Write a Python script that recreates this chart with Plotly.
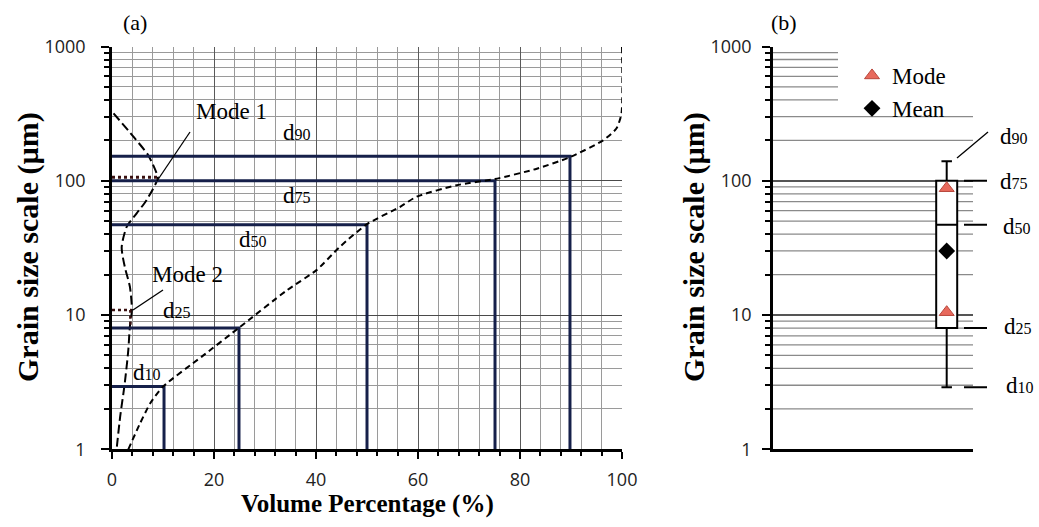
import plotly.graph_objects as go

# ---------------- data ----------------
# cumulative volume curve (volume %, grain size µm)
cum_pct = [3.2, 5.5, 7.5, 10.0, 17.6, 25.0, 34.3, 40.1, 44.7, 50.0, 56.5, 59.7, 67.6, 75.1, 83.3, 89.8, 96.3, 98.9, 99.9, 100.0]
cum_size = [1.0, 1.56, 2.2, 2.93, 4.9, 8.1, 15.3, 21.6, 32.3, 47.5, 64, 76, 92.7, 103, 123, 150, 200, 245, 317, 1000]

# frequency curve (volume %, grain size µm)
freq_pct = [0.3, 4.2, 7.1, 8.7, 9.0, 6.8, 4.8, 2.9, 1.9, 2.5, 3.5, 3.9, 3.5, 3.2, 2.5, 1.6, 0.9]
freq_size = [318, 213, 155, 115, 105, 72, 57, 45.5, 32, 22.9, 16.3, 10.9, 8.2, 5.5, 3.1, 1.75, 1.0]

# percentile lines of panel (a)
d_names = ["10", "25", "50", "75", "90"]
d_pct = [10.2, 24.9, 50.0, 75.1, 89.8]
d_size_a = [2.93, 8.0, 47.0, 100.0, 152.0]

# modes of panel (a)
mode_names = ["Mode 1", "Mode 2"]
mode_pct_a = [9.0, 3.6]
mode_size_a = [106.0, 10.9]

# panel (b) box statistics
d_size_b = [2.9, 8.0, 47.0, 100.0, 140.0]
mode_size_b = [88.0, 10.5]
mean_size_b = [30.0]

y_tick_vals = [1, 10, 100, 1000]
y_tick_text = ["1", "10", "100", "1000"]
x_tick_vals = [0, 20, 40, 60, 80, 100]
x_tick_text = ["0", "20", "40", "60", "80", "100"]

# ---------------- helpers ----------------
W, H = 1039, 527
def px(x):
    return x / W
def py(y):
    return 1 - y / H

minor_y = [m * 10 ** e for e in range(3) for m in range(2, 10)]

NAVY = "#16204a"
SERIF = "Liberation Serif"
SANS = "Open Sans"

fig = go.Figure()

# ---- panel (a) ----
fig.add_trace(go.Scatter(x=freq_pct, y=freq_size, mode="lines", xaxis="x", yaxis="y",
                         line=dict(color="black", width=2, dash="9px,4px", shape="spline", smoothing=0.7),
                         showlegend=False, hoverinfo="skip"))
for i in range(len(d_names)):
    fig.add_trace(go.Scatter(x=[0, d_pct[i], d_pct[i]], y=[d_size_a[i], d_size_a[i], 1],
                             mode="lines", xaxis="x", yaxis="y",
                             line=dict(color=NAVY, width=3), showlegend=False, hoverinfo="skip"))
fig.add_trace(go.Scatter(x=cum_pct, y=cum_size, mode="lines", xaxis="x", yaxis="y",
                         line=dict(color="black", width=2, dash="6px,4px", shape="spline", smoothing=0.6),
                         showlegend=False, hoverinfo="skip"))
# mode dotted markers
fig.add_trace(go.Scatter(x=[0, mode_pct_a[0]], y=[mode_size_a[0], mode_size_a[0]], mode="lines",
                         xaxis="x", yaxis="y", line=dict(color="#3a1010", width=3, dash="dot"),
                         showlegend=False, hoverinfo="skip"))
fig.add_trace(go.Scatter(x=[0, mode_pct_a[1], mode_pct_a[1]], y=[mode_size_a[1], mode_size_a[1], d_size_a[1]],
                         mode="lines", xaxis="x", yaxis="y", line=dict(color="#3a1010", width=2.5, dash="dot"),
                         showlegend=False, hoverinfo="skip"))

# ---- panel (b) ----
fig.add_trace(go.Box(x=[0.8685], q1=[d_size_b[1]], median=[d_size_b[2]], q3=[d_size_b[3]],
                     lowerfence=[d_size_b[0]], upperfence=[d_size_b[4]],
                     width=0.105, whiskerwidth=0.5, fillcolor="white",
                     line=dict(color="black", width=2), boxpoints=False,
                     xaxis="x2", yaxis="y2", showlegend=False, hoverinfo="skip"))
fig.add_trace(go.Scatter(x=[0.8685] * len(mode_size_b), y=mode_size_b, mode="markers", name="Mode",
                         xaxis="x2", yaxis="y2",
                         marker=dict(symbol="triangle-up", size=13, color="#e8695c",
                                     line=dict(color="#b8473c", width=1))))
fig.add_trace(go.Scatter(x=[0.8685], y=mean_size_b, mode="markers", name="Mean",
                         xaxis="x2", yaxis="y2",
                         marker=dict(symbol="diamond", size=13, color="black")))

shapes = []
# panel (b) minor grid lines
for v in minor_y:
    short = 400 <= v <= 900
    shapes.append(dict(type="line", xref="x2", yref="y2", x0=0, x1=0.325 if short else 1, y0=v, y1=v,
                       line=dict(color="#8a8a8a", width=1.3), layer="below"))

# panel (b) leader lines to percentile labels
for i in range(len(d_names)):
    if d_names[i] == "90":
        continue
    shapes.append(dict(type="line", xref="paper", yref="y2", x0=px(964), x1=px(987),
                       y0=d_size_b[i], y1=d_size_b[i], line=dict(color="black", width=2)))
shapes.append(dict(type="line", xref="paper", yref="paper", x0=px(957), y0=py(158), x1=px(988), y1=py(132),
                   line=dict(color="black", width=1.3)))
# mode leader lines in panel (a)
shapes.append(dict(type="line", xref="paper", yref="paper", x0=px(157), y0=py(181), x1=px(190), y1=py(132),
                   line=dict(color="black", width=1.3)))
shapes.append(dict(type="line", xref="paper", yref="paper", x0=px(133), y0=py(310), x1=px(163), y1=py(290),
                   line=dict(color="black", width=1.3)))

def dlabel(n):
    return "d<span style='font-size:16px'>" + n + "</span>"

ann = []
def add_text(text, x, y, size=21, bold=False, angle=0):
    ann.append(dict(text=("<b>" + text + "</b>") if bold else text, x=px(x), y=py(y), xref="paper", yref="paper",
                    showarrow=False, xanchor="center", yanchor="middle", textangle=angle,
                    font=dict(family=SERIF, size=size, color="black")))

add_text("(a)", 135, 22, 22)
add_text("(b)", 784, 22, 22)
add_text(mode_names[0], 231, 111, 23)
add_text(mode_names[1], 187, 274, 23)
a_pos = [(147, 372), (177, 310), (253, 239), (297, 196), (297, 132)]
b_pos = [(1020, 385), (1018, 326), (1017, 226), (1014, 181), (1014, 136)]
for i, n in enumerate(d_names):
    add_text(dlabel(n), a_pos[i][0], a_pos[i][1], 23)
    add_text(dlabel(n), b_pos[i][0], b_pos[i][1], 23)
add_text("Grain size scale (µm)", 28, 247, 30, bold=True, angle=-90)
add_text("Grain size scale (µm)", 694, 247, 30, bold=True, angle=-90)
add_text("Volume Percentage (%)", 367, 504, 25, bold=True)

tickfont = dict(family=SANS, size=18, color="#222")

fig.update_layout(
    width=W, height=H, margin=dict(l=0, r=0, t=0, b=0, pad=0, autoexpand=False),
    template="none",
    paper_bgcolor="white", plot_bgcolor="white",
    shapes=shapes, annotations=ann,
    legend=dict(x=px(852), y=py(54), xanchor="left", yanchor="top", bgcolor="rgba(0,0,0,0)",
                font=dict(family=SERIF, size=23, color="black"), itemsizing="trace", tracegroupgap=0),
    xaxis=dict(domain=[px(112), px(622)], range=[0, 100], tickvals=x_tick_vals, ticktext=x_tick_text,
               ticks="outside", ticklen=7, tickwidth=2, tickcolor="black", ticklabelstandoff=5,
               showline=True, linecolor="black", linewidth=2.5, automargin=False,
               showgrid=True, gridcolor="#5a5a5a", gridwidth=1.4, zeroline=False, tickfont=tickfont,
               minor=dict(dtick=4, ticks="outside", ticklen=4, tickwidth=1.5, tickcolor="black",
                          showgrid=True, gridcolor="#9a9a9a", gridwidth=1.3),
               anchor="y"),
    yaxis=dict(domain=[py(449.3), py(46.5)], type="log", range=[0, 3], tickvals=y_tick_vals, ticktext=y_tick_text,
               ticks="outside", ticklen=8, tickwidth=2, tickcolor="black", ticklabelstandoff=12,
               showline=True, linecolor="black", linewidth=2.5, automargin=False,
               showgrid=True, gridcolor="#4a4a4a", gridwidth=1.4, zeroline=False, tickfont=tickfont,
               minor=dict(tickvals=minor_y, ticks="outside", ticklen=5, tickwidth=1.5, tickcolor="black",
                          showgrid=True, gridcolor="#9a9a9a", gridwidth=1.3),
               anchor="x"),
    xaxis2=dict(domain=[px(773), px(973)], range=[0, 1], showticklabels=False, ticks="",
                showline=True, linecolor="black", linewidth=3, showgrid=False, zeroline=False,
                automargin=False, anchor="y2"),
    yaxis2=dict(domain=[py(449.3), py(46.5)], type="log", range=[0, 3], tickvals=y_tick_vals, ticktext=y_tick_text,
                ticks="outside", ticklen=8, tickwidth=2, tickcolor="black", ticklabelstandoff=7,
                showline=True, linecolor="black", linewidth=2.5, automargin=False,
                showgrid=True, gridcolor="#555", gridwidth=1.5, zeroline=False, tickfont=tickfont,
                minor=dict(tickvals=minor_y, ticks="outside", ticklen=5, tickwidth=1.5, tickcolor="black",
                           showgrid=False),
                anchor="x2"),
)

fig.write_html("out.html", config={"displayModeBar": False})
